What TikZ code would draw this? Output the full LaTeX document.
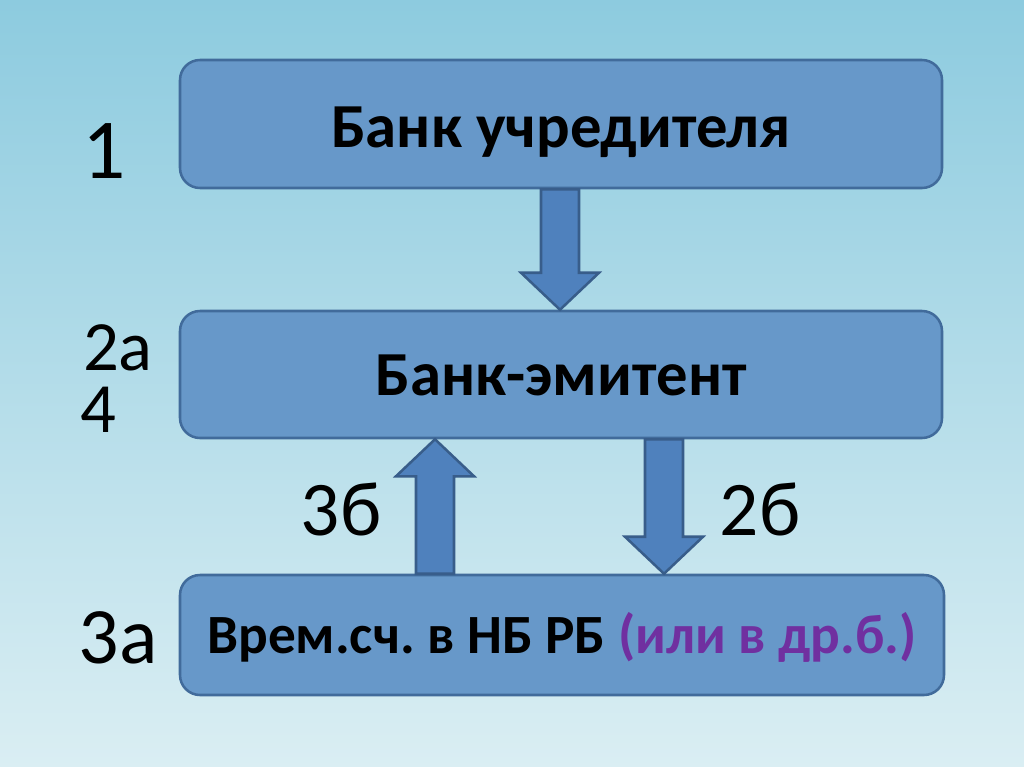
\documentclass[tikz,border=0pt]{standalone}
\usepackage{fontspec}
\setmainfont{Carlito}
\usetikzlibrary{calc}
\frenchspacing
\definecolor{bgtop}{HTML}{8DCBDF}
\definecolor{bgmid}{HTML}{ABD8E5}
\definecolor{bgbot}{HTML}{DAEEF3}
\definecolor{boxfill}{HTML}{6798C9}
\definecolor{boxline}{HTML}{416B9B}
\definecolor{arrfill}{HTML}{4F81BD}
\definecolor{arrline}{HTML}{385D8A}
\definecolor{purp}{HTML}{7030A0}
\newcommand\blockarrow[2]{%
  \path (#1) coordinate (ba-s) (#2) coordinate (ba-e);
  \path ($(ba-e)!27.75pt!(ba-s)$) coordinate (ba-h);
  \draw[blockarr] ($(ba-s)!14.25pt!90:(ba-e)$) -- ($(ba-h)!14.25pt!90:(ba-e)$)
    -- ($(ba-h)!29.25pt!90:(ba-e)$) -- (ba-e) -- ($(ba-h)!29.25pt!-90:(ba-e)$)
    -- ($(ba-h)!14.25pt!-90:(ba-e)$) -- ($(ba-s)!14.25pt!-90:(ba-e)$) -- cycle;}
\begin{document}
\begin{tikzpicture}[x=0.75pt,y=-0.75pt,
  box/.style={draw=boxline, fill=boxfill, line width=1.9pt, rounded corners=15pt,
    inner sep=0pt, text depth=0pt, align=center},
  boxtext/.style={font=\bfseries\fontsize{47}{56}\selectfont},
  blockarr/.style={draw=arrline, fill=arrfill, line width=1.9pt, line join=miter},
  lbl/.style={inner sep=0pt, anchor=base, text depth=0pt}]
\shade[top color=bgtop, middle color=bgmid, bottom color=bgbot] (0,0) rectangle (1024,767);
\useasboundingbox (0,0) rectangle (1024,767);
\node[box, boxtext, text height=34.5pt, minimum width=571.5pt, minimum height=96pt] (b1) at (561,124) {Банк учредителя};
\node[box, boxtext, text height=30.8pt, minimum width=571.5pt, minimum height=95.25pt] (b2) at (561,374.5) {Банк-эмитент};
\node[box, font=\bfseries\fontsize{41.5}{50}\selectfont, text height=27pt, minimum width=573pt, minimum height=90pt] (b3) at (562,635) {Врем.сч. в НБ РБ \textcolor{purp}{(или в др.б.)}};
\coordinate (xa) at (560,0);
\coordinate (xb) at (435,0);
\coordinate (xc) at (664,0);
\blockarrow{b1.south -| xa}{b2.north -| xa}
\blockarrow{b3.north -| xb}{b2.south -| xb}
\blockarrow{b2.south -| xc}{b3.north -| xc}
\node[lbl, text height=41pt, font=\fontsize{64}{76}\selectfont] (n1) at (104,178) {1};
\node[lbl, text height=34pt, font=\fontsize{53}{62}\selectfont] (n2a) at (118,370) {2а};
\node[lbl, text height=34pt, font=\fontsize{53}{62}\selectfont] (n4) at (98,432) {4};
\node[lbl, text height=38pt, font=\fontsize{58}{70}\selectfont] (n3b) at (341,535) {3б};
\node[lbl, text height=38pt, font=\fontsize{58}{70}\selectfont] (n2b) at (760,535) {2б};
\node[lbl, text height=38pt, font=\fontsize{60}{72}\selectfont] (n3a) at (118,663) {3а};
\end{tikzpicture}
\end{document}
